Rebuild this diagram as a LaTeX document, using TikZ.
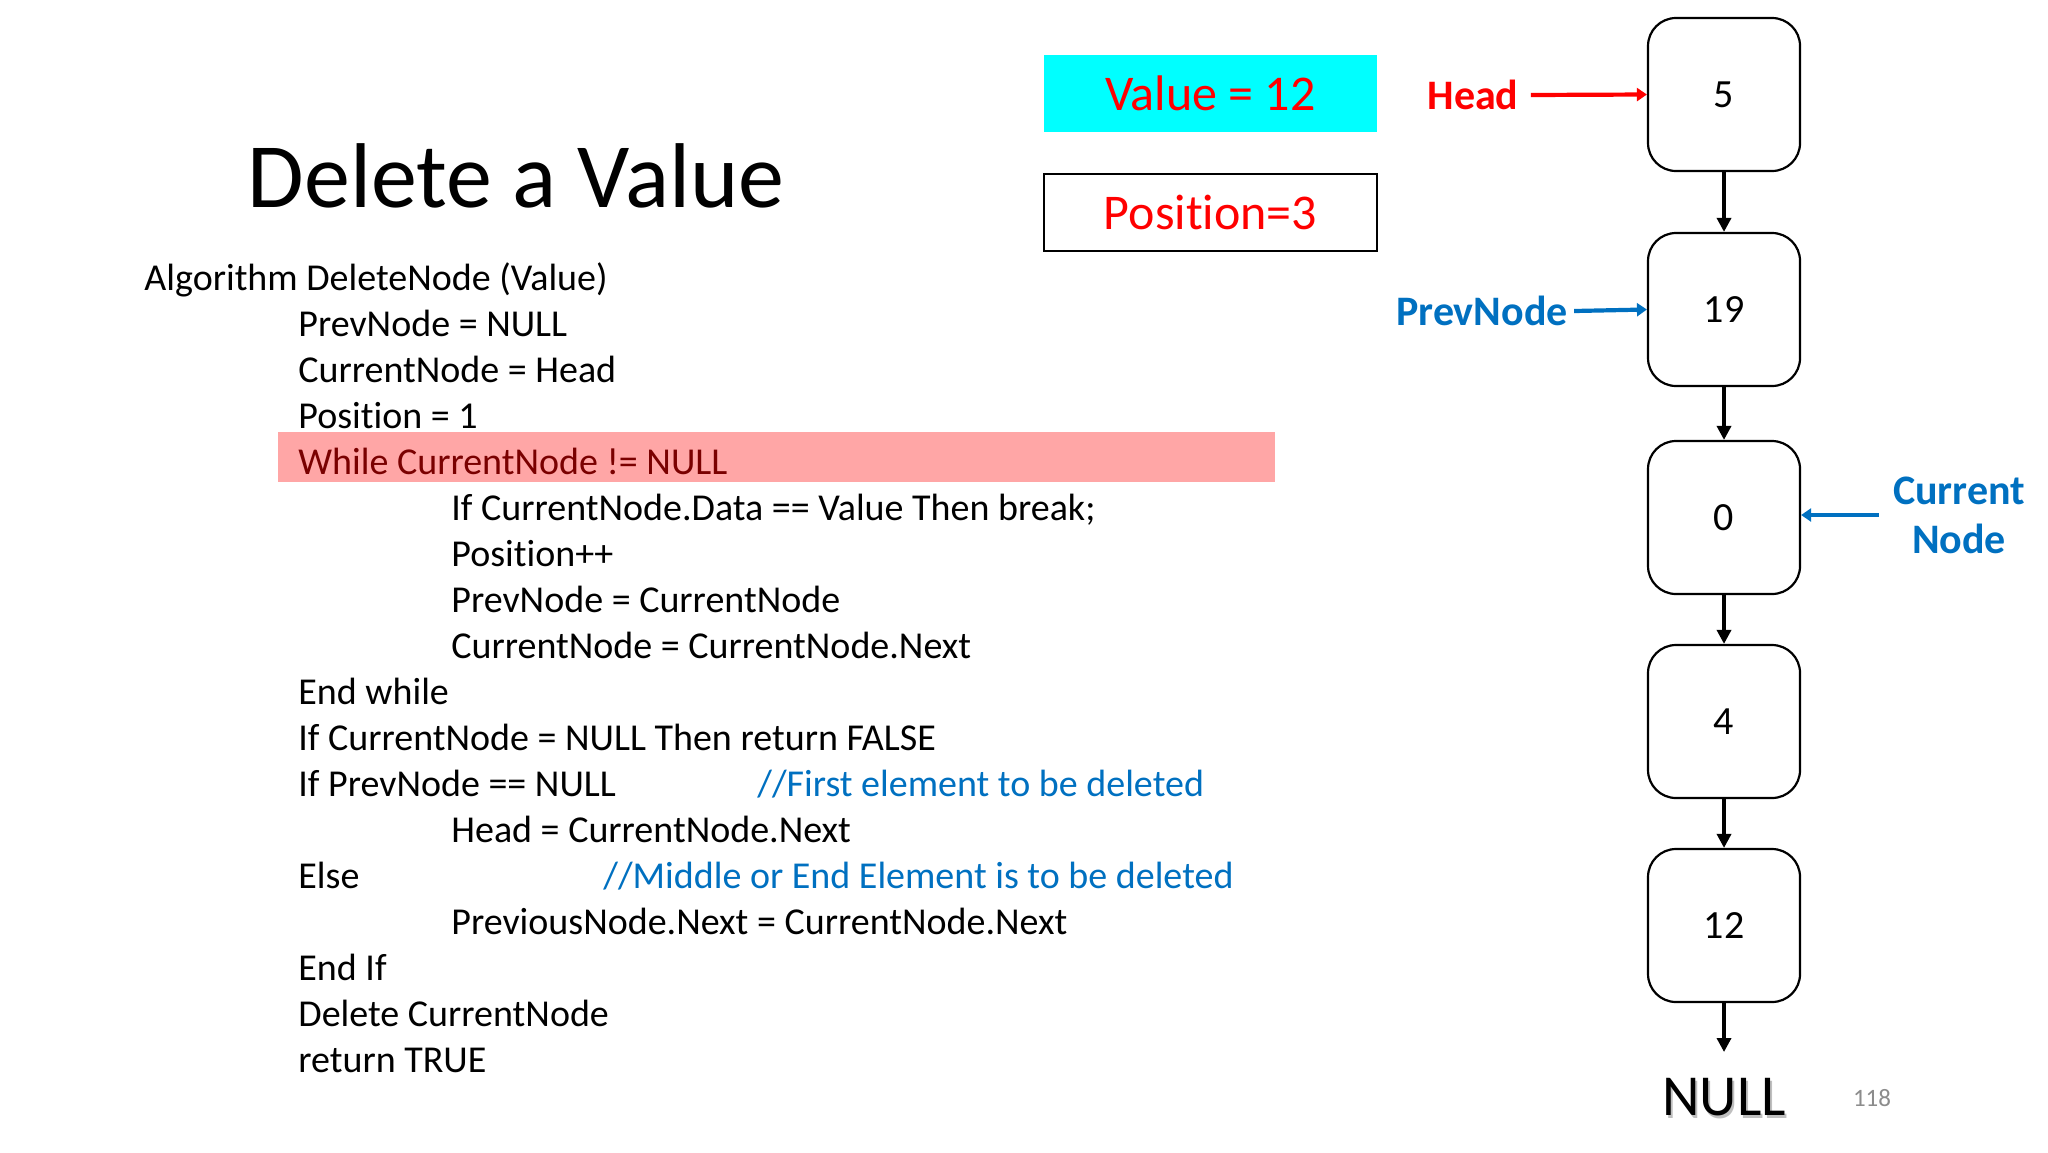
\documentclass[tikz,border=0pt]{standalone}
\usepackage{fontspec}
\setmainfont[Ligatures=NoCommon]{Carlito}
\usetikzlibrary{arrows.meta}
\definecolor{hlred}{HTML}{FFA6A6}
\definecolor{darkred}{HTML}{7A0000}
\definecolor{myblue}{HTML}{0070C0}
\definecolor{myred}{HTML}{FF0000}
\definecolor{mycyan}{HTML}{00FFFF}
\definecolor{pagegray}{HTML}{8C8C8C}
\begin{document}
\begin{tikzpicture}[x=0.5pt,y=-0.5pt,
  code/.style={anchor=base west, inner sep=0pt, font=\fontsize{19}{23}\selectfont},
  comment/.style={code, text=myblue},
  listnode/.style={draw, line width=1.1pt, rounded corners=14pt, minimum width=76pt, minimum height=76.5pt, font=\fontsize{20}{24}\selectfont},
  link/.style={-{Triangle[length=7pt,width=7pt]}, line width=1.7pt},
  ptr/.style={-{Triangle[length=5pt,width=6.5pt]}, line width=2.1pt},
  lbl/.style={font=\fontsize{21}{24.5}\selectfont\bfseries}
]
\useasboundingbox (0,0) rectangle (2048,1152);

% title
\node[font=\fontsize{46}{55}\selectfont, anchor=base] (title) at (516,207) {Delete a Value};

% highlight
\node[fill=hlred, minimum width=498.5pt, minimum height=25pt, anchor=north west, inner sep=0pt] (hl) at (278,432) {};

% code
\node[code] (c0) at (144,290) {Algorithm DeleteNode (Value)};
\node[code] (c1) at (298,336) {PrevNode = NULL};
\node[code] (c2) at (298,382) {CurrentNode = Head};
\node[code] (c3) at (298,428) {Position = 1};
\node[code, text=darkred] (c4) at (298,474) {While CurrentNode != NULL};
\node[code] (c5) at (451,520) {If CurrentNode.Data == Value Then break;};
\node[code] (c6) at (451,566) {Position++};
\node[code] (c7) at (451,612) {PrevNode = CurrentNode};
\node[code] (c8) at (451,658) {CurrentNode = CurrentNode.Next};
\node[code] (c9) at (298,704) {End while};
\node[code] (c10) at (298,750) {If CurrentNode = NULL Then return FALSE};
\node[code] (c11) at (298,796) {If PrevNode == NULL};
\node[comment] (m11) at (757,796) {//First element to be deleted};
\node[code] (c12) at (451,842) {Head = CurrentNode.Next};
\node[code] (c13) at (298,888) {Else};
\node[comment] (m13) at (603,888) {//Middle or End Element is to be deleted};
\node[code] (c14) at (451,934) {PreviousNode.Next = CurrentNode.Next};
\node[code] (c15) at (298,980) {End If};
\node[code] (c16) at (298,1026) {Delete CurrentNode};
\node[code] (c17) at (298,1072) {return TRUE};

% value / position boxes
\node[fill=mycyan, minimum width=166.5pt, minimum height=38.5pt, inner sep=0pt, text=myred, font=\fontsize{25}{30}\selectfont] (val) at (1210.5,93.5) {Value = 12};
\node[draw, line width=1pt, minimum width=166.5pt, minimum height=38.5pt, inner sep=0pt, text=myred, font=\fontsize{25}{30}\selectfont] (pos) at (1210.5,212.5) {Position=3};

% list nodes
\node[listnode] (n1) at (1724,94.5) {5};
\node[listnode] (n2) at (1724,309.5) {19};
\node[listnode] (n3) at (1724,517.5) {0};
\node[listnode] (n4) at (1724,721.5) {4};
\node[listnode] (n5) at (1724,925.5) {12};
\coordinate (nullend) at (1724,1052);
\node[font=\fontsize{29}{34}\selectfont, text=black!25] (nullsh) at (1726,1100) {NULL};
\node[font=\fontsize{29}{34}\selectfont] (null) at (1724,1097) {NULL};

\draw[link] (n1) -- (n2);
\draw[link] (n2) -- (n3);
\draw[link] (n3) -- (n4);
\draw[link] (n4) -- (n5);
\draw[link] (n5) -- (nullend);

% pointers
\node[lbl, text=myred, inner sep=6pt] (head) at (1473,95) {Head};
\draw[ptr, myred] (head.east) -- (n1.west);
\node[lbl, text=myblue, inner sep=3pt] (prev) at (1482,311) {PrevNode};
\draw[ptr, myblue] (prev.east) -- (n2.west);
\node[lbl, text=myblue, align=center, inner sep=7pt] (cur) at (1959,515) {Current\\Node};
\draw[ptr, myblue] (cur.west) -- (cur.west -| n3.east);

% page number
\node[font=\fontsize{12.5}{15}\selectfont, text=pagegray] (page) at (1872,1098) {118};
\end{tikzpicture}
\end{document}
